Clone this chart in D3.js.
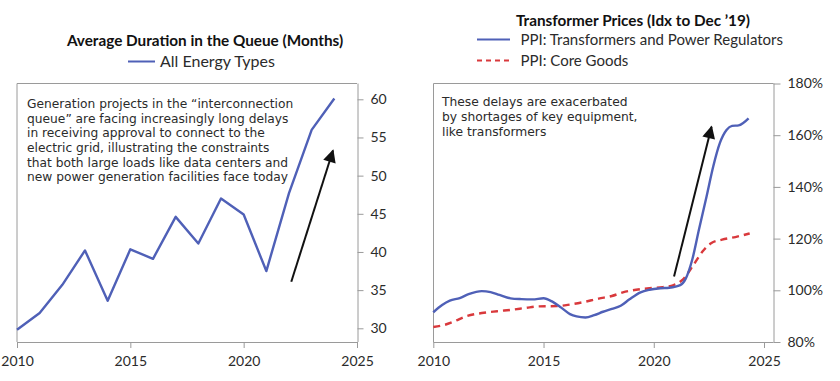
<!DOCTYPE html>
<html><head><meta charset="utf-8">
<script src="https://cdn.jsdelivr.net/npm/d3@7"></script>
<style>
body{margin:0;background:#fff;}
svg{display:block;font-family:Lato, "Open Sans", sans-serif;}
</style></head>
<body><svg id="c" width="840" height="381"></svg>
<script>
// ---- Left chart data: Average duration in the queue (months)
const queueYears = [2010,2011,2012,2013,2014,2015,2016,2017,2018,2019,2020,2021,2022,2023,2024];
const queueMonths = [29.8,32.0,35.7,40.2,33.6,40.35,39.1,44.6,41.1,47.0,44.9,37.5,47.7,56.0,60.1];
const leftYTicks = [30,35,40,45,50,55,60];
const xTicks = [2010,2015,2020,2025];

// ---- Right chart data: Transformer prices (index to Dec '19, %)
const transT = [2010.0,2010.4,2010.75,2011.2,2011.6,2012.2,2012.6,2013.0,2013.5,2014.0,2014.5,2015.0,2015.4,2015.8,2016.2,2016.5,2016.9,2017.3,2017.7,2018.1,2018.5,2018.9,2019.4,2019.8,2020.3,2020.7,2021.2,2021.45,2021.75,2022.05,2022.4,2022.7,2023.0,2023.3,2023.55,2023.85,2024.3];
const transV = [91.5,94.3,96.0,97.0,98.5,99.7,99.3,98.2,96.9,96.6,96.5,96.9,95.6,93.3,90.8,89.9,89.5,90.4,91.7,92.8,94.0,96.5,99.2,100.2,100.8,101.0,102.0,104.5,112.0,123.5,136.5,148.0,157.0,162.0,163.6,163.8,166.5];
const coreT = [2010.0,2010.5,2010.9,2011.5,2012.2,2012.9,2013.6,2014.2,2014.8,2015.6,2016.2,2016.8,2017.5,2018.1,2018.6,2019.2,2019.8,2020.4,2020.9,2021.3,2021.8,2022.2,2022.6,2023.1,2023.7,2024.35];
const coreV = [85.8,86.6,87.8,90.0,91.2,91.9,92.5,93.2,93.8,93.9,94.5,95.4,96.8,97.8,99.2,100.2,100.8,101.2,102.0,104.0,109.8,114.9,118.2,119.6,120.6,122.0];
const rightYTicks = [80,100,120,140,160,180];

const leftNote = ["Generation projects in the \u201Cinterconnection","queue\u201D are facing increasingly long delays","in receiving approval to connect to the","electric grid, illustrating the constraints","that both large loads like data centers and","new power generation facilities face today"];
const rightNote = ["These delays are exacerbated","by shortages of key equipment,","like transformers"];
const leftArrow = [[2022.1,36.1],[2023.94,53.3]];
const rightArrow = [[2020.92,105.3],[2022.62,163.3]];

const BLUE = "#4f60b7", RED = "#d9393c", GRID = "#9a9a9a", TXT = "#2b2b2b";
const NOTEFONT = "'DejaVu Sans', sans-serif";
const svg = d3.select("#c");
const defs = svg.append("defs");
defs.append("marker").attr("id","ah").attr("viewBox","0 0 10 10").attr("refX",9).attr("refY",5)
  .attr("markerWidth",7.5).attr("markerHeight",6.5).attr("markerUnits","strokeWidth").attr("orient","auto")
  .append("path").attr("d","M0,0L10,5L0,10z").attr("fill","#111");

function frame(g, x0, x1, y0, y1){
  g.append("path").attr("d",`M${x1},${y0}H${x0}V${y1}`).attr("fill","none").attr("stroke",GRID).attr("stroke-width",1);
}
function styleAxis(a){
  a.select(".domain").attr("stroke",GRID);
  a.selectAll(".tick line").attr("stroke",GRID);
  a.selectAll(".tick text").attr("fill",TXT).attr("font-size",14).attr("font-family","Lato, sans-serif");
}

// ===== Left chart =====
{
  const x = d3.scaleLinear().domain([2010,2025]).range([17,357]);
  const y = d3.scaleLinear().domain([30,60]).range([328.3,99.3]);
  const g = svg.append("g");
  frame(g, 17, 357, 83.5, 342);
  const ax = g.append("g").attr("transform","translate(0,342)")
    .call(d3.axisBottom(x).tickValues(xTicks).tickFormat(d3.format("d")).tickSize(6).tickPadding(8).tickSizeOuter(0));
  styleAxis(ax);
  ax.select(".domain").attr("d","M17,0.5H357.5");
  const ay = g.append("g").attr("transform","translate(357.5,0)")
    .call(d3.axisRight(y).tickValues(leftYTicks).tickSize(6).tickPadding(7).tickSizeOuter(0));
  styleAxis(ay);
  ay.select(".domain").attr("d","M0.5,83.5V342");
  const line = d3.line().x((d,i)=>x(queueYears[i])).y(d=>y(d));
  g.append("path").datum(queueMonths).attr("d",line).attr("fill","none").attr("stroke",BLUE).attr("stroke-width",2.4).attr("stroke-linejoin","round");
  g.append("line").attr("x1",x(leftArrow[0][0])).attr("y1",y(leftArrow[0][1])).attr("x2",x(leftArrow[1][0])).attr("y2",y(leftArrow[1][1]))
    .attr("stroke","#111").attr("stroke-width",2).attr("marker-end","url(#ah)");
  leftNote.forEach((s,i)=>g.append("text").attr("x",27).attr("y",107.8+i*14.7)
    .attr("fill",TXT).attr("font-size",12.25).attr("font-family",NOTEFONT).text(s));
  // title + legend
  g.append("text").attr("x",205).attr("y",46).attr("text-anchor","middle").attr("font-weight","bold").attr("font-size",15.3).attr("fill","#111").text("Average Duration in the Queue (Months)");
  g.append("line").attr("x1",128).attr("x2",155).attr("y1",61.5).attr("y2",61.5).attr("stroke",BLUE).attr("stroke-width",2);
  g.append("text").attr("x",160).attr("y",66.5).attr("font-size",16).attr("fill",TXT).text("All Energy Types");
}

// ===== Right chart =====
{
  const x = d3.scaleLinear().domain([2010,2025]).range([433.3,764]);
  const y = d3.scaleLinear().domain([80,180]).range([342,83.5]);
  const g = svg.append("g");
  frame(g, 433.5, 773.5, 83.5, 342);
  const ax = g.append("g").attr("transform","translate(0,342)")
    .call(d3.axisBottom(x).tickValues(xTicks).tickFormat(d3.format("d")).tickSize(6).tickPadding(8).tickSizeOuter(0));
  styleAxis(ax);
  ax.select(".domain").attr("d","M433.5,0.5H773.5");
  const ay = g.append("g").attr("transform","translate(773.5,0)")
    .call(d3.axisRight(y).tickValues(rightYTicks).tickFormat(d=>d+"%").tickSize(7).tickPadding(7).tickSizeOuter(0));
  styleAxis(ay);
  ay.select(".domain").attr("d","M0.5,83.5V342");
  const lineT = d3.line().curve(d3.curveMonotoneX).x((d,i)=>x(transT[i])).y(d=>y(d));
  const lineC = d3.line().curve(d3.curveMonotoneX).x((d,i)=>x(coreT[i])).y(d=>y(d));
  g.append("path").datum(coreV).attr("d",lineC).attr("fill","none").attr("stroke",RED).attr("stroke-width",2.4).attr("stroke-dasharray","7,5");
  g.append("path").datum(transV).attr("d",lineT).attr("fill","none").attr("stroke",BLUE).attr("stroke-width",2.4).attr("stroke-linejoin","round");
  g.append("line").attr("x1",x(rightArrow[0][0])).attr("y1",y(rightArrow[0][1])).attr("x2",x(rightArrow[1][0])).attr("y2",y(rightArrow[1][1]))
    .attr("stroke","#111").attr("stroke-width",2).attr("marker-end","url(#ah)");
  rightNote.forEach((s,i)=>g.append("text").attr("x",442).attr("y",106.3+i*15)
    .attr("fill",TXT).attr("font-size",12.3).attr("font-family",NOTEFONT).text(s));
  g.append("text").attr("x",633).attr("y",25.5).attr("text-anchor","middle").attr("font-weight","bold").attr("font-size",15.3).attr("fill","#111").text("Transformer Prices (Idx to Dec \u201919)");
  g.append("line").attr("x1",477).attr("x2",510).attr("y1",39.5).attr("y2",39.5).attr("stroke",BLUE).attr("stroke-width",2);
  g.append("text").attr("x",520.5).attr("y",44.5).attr("font-size",15).attr("fill",TXT).text("PPI: Transformers and Power Regulators");
  g.append("line").attr("x1",477).attr("x2",510).attr("y1",60.5).attr("y2",60.5).attr("stroke",RED).attr("stroke-width",2).attr("stroke-dasharray","5,4");
  g.append("text").attr("x",520.5).attr("y",65.5).attr("font-size",15).attr("fill",TXT).text("PPI: Core Goods");
}
</script></body></html>
